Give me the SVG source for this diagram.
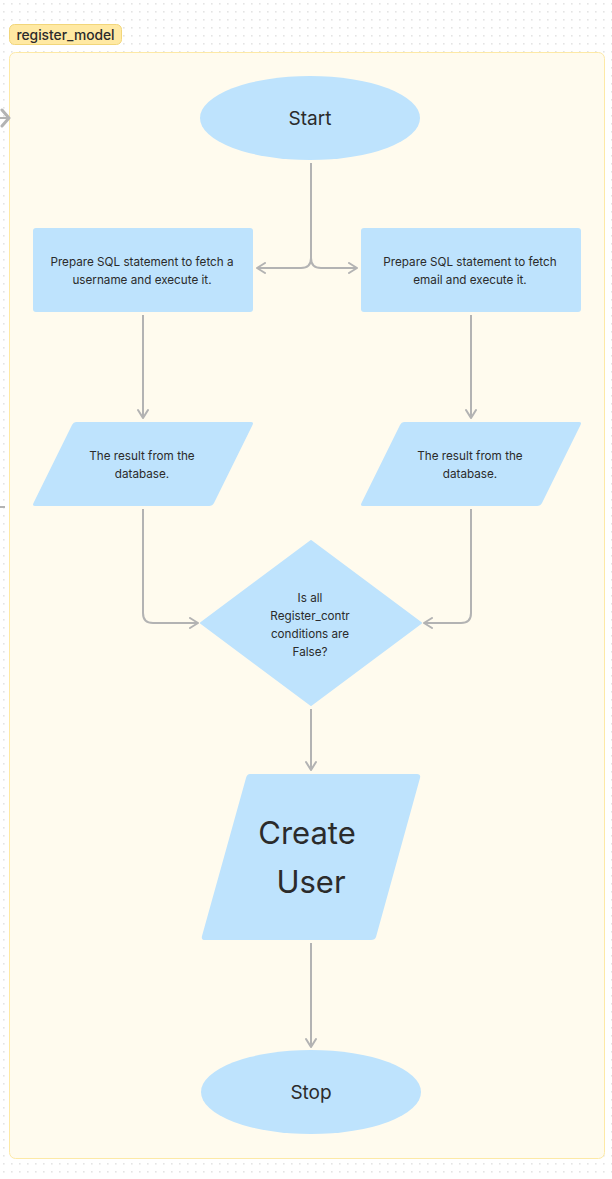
<svg xmlns="http://www.w3.org/2000/svg" width="612" height="1179" viewBox="0 0 612 1179">
<defs>
<pattern id="dots" x="0" y="0" width="8" height="8" patternUnits="userSpaceOnUse">
<rect x="3" y="3" width="1.6" height="1.6" fill="#e4e4e4"/>
</pattern>
<marker id="arr" viewBox="0 0 12 12" refX="10" refY="6" markerWidth="12" markerHeight="12" markerUnits="userSpaceOnUse" orient="auto">
<path d="M2,1 L10,6 L2,11" fill="none" stroke="#b3b3b3" stroke-width="2" stroke-linecap="round" stroke-linejoin="round"/>
</marker>
</defs>
<style>
.node{fill:#bee3fd;}
.conn{fill:none;stroke:#b3b3b3;stroke-width:2;}
.t{font-family:Inter,"Liberation Sans",sans-serif;fill:#2b2b2b;text-anchor:middle;}
.s{font-size:11.7px;}
</style>
<rect width="612" height="1179" fill="#ffffff"/>
<rect width="612" height="1179" fill="url(#dots)"/>
<g id="container">
<rect x="9.5" y="52.5" width="595" height="1106" rx="6" fill="#fffbee" stroke="#fde9a6" stroke-width="1"/>
<rect x="9.5" y="24.5" width="112" height="20" rx="5" fill="#ffe9a3" stroke="#f2d67a" stroke-width="1"/>
<text class="t" x="65.5" y="39.5" font-size="13.8" font-weight="500" fill="#1e1e1e">register_model</text>
</g>
<g id="connectors">
<path d="M2,110 L9,118 L2,126" fill="none" stroke="#b3b3b3" stroke-width="3" stroke-linecap="round" stroke-linejoin="round"/>
<path class="conn" d="M0,118 L8,118"/>
<path class="conn" d="M0,507 L5,507"/>
<path class="conn" d="M311,163 L311,258 Q311,268 301,268 L257,268" marker-end="url(#arr)"/>
<path class="conn" d="M311,163 L311,258 Q311,268 321,268 L357,268" marker-end="url(#arr)"/>
<path class="conn" d="M143,315 L143,418" marker-end="url(#arr)"/>
<path class="conn" d="M471,315 L471,418" marker-end="url(#arr)"/>
<path class="conn" d="M143,509 L143,613 Q143,623 153,623 L198,623" marker-end="url(#arr)"/>
<path class="conn" d="M471,509 L471,613 Q471,623 461,623 L424,623" marker-end="url(#arr)"/>
<path class="conn" d="M311,709 L311,770" marker-end="url(#arr)"/>
<path class="conn" d="M311,943 L311,1047" marker-end="url(#arr)"/>
</g>
<g id="start">
<ellipse class="node" cx="310" cy="118" rx="110" ry="42"/>
<text class="t" x="310" y="125" font-size="19">Start</text>
</g>
<g id="sql_username">
<rect class="node" x="33" y="228" width="220" height="84" rx="3"/>
<text class="t s" x="142" y="266">Prepare SQL statement to fetch a</text>
<text class="t s" x="142" y="284">username and execute it.</text>
</g>
<g id="sql_email">
<rect class="node" x="361" y="228" width="220" height="84" rx="3"/>
<text class="t s" x="470" y="266">Prepare SQL statement to fetch</text>
<text class="t s" x="470" y="284">email and execute it.</text>
</g>
<g id="result_left">
<path class="node" d="M76,422 L251,422 Q254,422 252.5,425 L214,503 Q212.5,506 209,506 L35,506 Q32,506 33.5,503 L72,425 Q73.5,422 76,422 Z"/>
<text class="t s" x="142" y="460">The result from the</text>
<text class="t s" x="142" y="478">database.</text>
</g>
<g id="result_right">
<path class="node" d="M404,422 L579,422 Q582,422 580.5,425 L542,503 Q540.5,506 537,506 L363,506 Q360,506 361.5,503 L400,425 Q401.5,422 404,422 Z"/>
<text class="t s" x="470" y="460">The result from the</text>
<text class="t s" x="470" y="478">database.</text>
</g>
<g id="decision">
<path class="node" d="M311,541 L421,623 L311,705 L201,623 Z" stroke="#bee3fd" stroke-width="2" stroke-linejoin="round"/>
<text class="t s" x="310" y="602">Is all</text>
<text class="t s" x="310" y="620">Register_contr</text>
<text class="t s" x="310" y="638">conditions are</text>
<text class="t s" x="310" y="656">False?</text>
</g>
<g id="create_user">
<path class="node" d="M250,774 L417,774 Q421,774 420,778 L376,937 Q375,940 371,940 L205,940 Q201,940 202,936 L246,778 Q247,774 250,774 Z"/>
<text class="t" x="307" y="844" font-size="31">Create</text>
<text class="t" x="311" y="893" font-size="31">User</text>
</g>
<g id="stop">
<ellipse class="node" cx="311" cy="1092" rx="110" ry="42"/>
<text class="t" x="311" y="1099" font-size="19">Stop</text>
</g>
</svg>
